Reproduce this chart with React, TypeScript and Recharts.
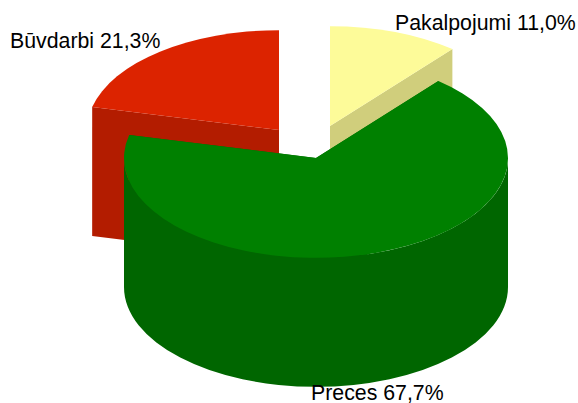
import { PieChart, Pie } from "recharts";

// Order = paint order: green has to sit on top of the other two
const categories = ["Būvdarbi", "Pakalpojumi", "Preces"];
const shares = [21.3, 11.0, 67.7];
const percentLabels = ["21,3%", "11,0%", "67,7%"];

const data = categories.map((name, i) => ({ name, value: shares[i], share: percentLabels[i] }));

const RX = 192;
const SQUASH = 0.52; // vertical flattening of the top ellipse
const DEPTH = 129;

// exploded slice centres, relative to the pie centre
const offsets: Record<string, [number, number]> = {
  "Būvdarbi": [-37, -28],
  "Pakalpojumi": [14, -32],
  "Preces": [0, 0],
};
const colors: Record<string, { top: string; side: string }> = {
  "Būvdarbi": { top: "#dc2300", side: "#b31c00" },
  "Pakalpojumi": { top: "#fdfb99", side: "#d0ce7c" },
  "Preces": { top: "#008000", side: "#006600" },
};
const labelPos: Record<string, [number, number]> = {
  "Būvdarbi": [10, 48],
  "Pakalpojumi": [395, 30],
  "Preces": [311, 400],
};

// recharts angle (degrees, ccw from 3 o'clock) to a point on the flattened rim
const rimPoint = (cx: number, cy: number, r: number, deg: number): [number, number] => {
  const a = (deg * Math.PI) / 180;
  return [cx + r * Math.cos(a), cy - r * SQUASH * Math.sin(a)];
};

const Slice3D = (props: any) => {
  const { cx, cy, outerRadius: r, startAngle, endAngle, name } = props;
  const [dx, dy] = offsets[name];
  const x = cx + dx;
  const y = cy + dy;
  const ry = r * SQUASH;
  const c = colors[name];
  const [sx, sy] = rimPoint(x, y, r, startAngle);
  const [ex, ey] = rimPoint(x, y, r, endAngle);
  const large = Math.abs(startAngle - endAngle) > 180 ? 1 : 0;

  const face = (px: number, py: number) =>
    `M${x},${y} L${px},${py} L${px},${py + DEPTH} L${x},${y + DEPTH} Z`;

  return (
    <g>
      <path d={face(sx, sy)} fill={c.side} />
      <path d={face(ex, ey)} fill={c.side} />
      {/* only the big slice reaches the front of the ellipse */}
      {large === 1 && (
        <path
          d={`M${x + r},${y} A${r},${ry} 0 0 1 ${x - r},${y} L${x - r},${y + DEPTH} A${r},${ry} 0 0 0 ${x + r},${y + DEPTH} Z`}
          fill={c.side}
        />
      )}
      <path d={`M${x},${y} L${sx},${sy} A${r},${ry} 0 ${large} 1 ${ex},${ey} Z`} fill={c.top} />
    </g>
  );
};

const renderLabel = (props: any) => {
  const [lx, ly] = labelPos[props.name];
  return (
    <text x={lx} y={ly} fill="#000" fontSize={21.3} fontFamily="Liberation Sans" textAnchor="start">
      {`${props.name} ${props.payload.share}`}
    </text>
  );
};

export default function App() {
  return (
    <div style={{ position: "absolute", left: 0, top: 0, background: "#fff" }}>
      <PieChart width={578} height={403} margin={{ top: 0, right: 0, bottom: 0, left: 0 }}>
        <Pie
          data={data}
          dataKey="value"
          nameKey="name"
          cx={316}
          cy={158}
          outerRadius={RX}
          startAngle={166.68}
          endAngle={-193.32}
          paddingAngle={0}
          stroke="none"
          shape={Slice3D}
          label={renderLabel}
          labelLine={false}
          isAnimationActive={false}
        />
      </PieChart>
    </div>
  );
}
